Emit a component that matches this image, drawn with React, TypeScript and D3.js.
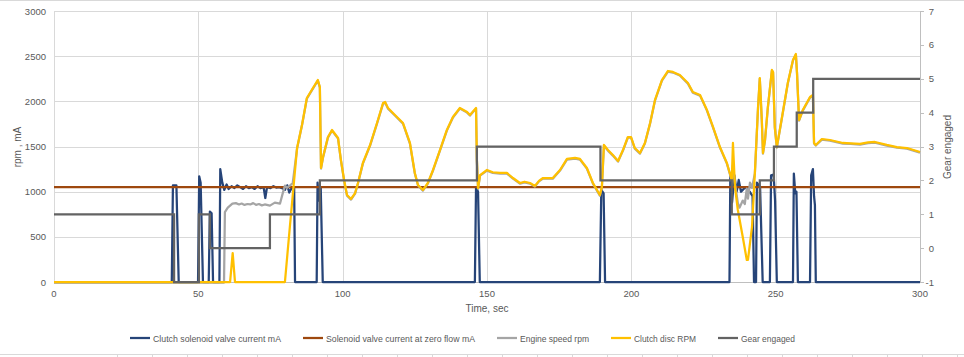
import React from "react";
import * as d3 from "d3";

type P = [number, number];

const xTicks = [0, 50, 100, 150, 200, 250, 300];
const yLeftTicks = [0, 500, 1000, 1500, 2000, 2500, 3000];
const yRightTicks = [-1, 0, 1, 2, 3, 4, 5, 6, 7];

const solenoidCurrent: P[] = [
  [0, 0], [40.8, 0], [41.2, 1070], [42.4, 1070], [43.2, 0],
  [49.9, 0], [50.3, 1170], [50.8, 1100], [51.6, 0],
  [53.6, 0], [54.0, 780], [54.6, 760], [55.1, 0],
  [57.3, 0], [57.6, 1250], [58.3, 1100], [59.0, 1020], [59.8, 1080], [60.5, 1030], [61.5, 1060],
  [62.5, 1040], [63.5, 1070], [64.5, 1050], [65.5, 1030], [66.5, 1060], [67.5, 1040], [68.5, 1050],
  [69.5, 1030], [70.5, 1060], [71.5, 1040], [72.6, 1050], [73.2, 930], [73.8, 1050], [75, 1040],
  [76, 1060], [77, 1045], [78, 1050], [79, 1040], [80, 1020], [80.8, 1070], [81.5, 990],
  [82.5, 1050], [83.2, 1040], [83.5, 0],
  [91.0, 0], [91.3, 1100], [91.8, 900], [92.4, 1050], [93.1, 0],
  [145.8, 0], [146.2, 1050], [146.9, 1000], [147.5, 0],
  [189.1, 0], [189.6, 1020], [190.4, 980], [190.9, 0],
  [234.0, 0], [234.3, 1200], [234.9, 880], [235.7, 1180], [236.5, 1000], [237.2, 1130],
  [238.0, 1000], [239.5, 1050], [241.0, 1000], [242.0, 950], [242.5, 0],
  [243.2, 0], [243.5, 1100], [244.6, 1050], [245.5, 0],
  [248.0, 0], [248.4, 1180], [249.3, 1190], [249.8, 900], [250.4, 0],
  [256.0, 0], [256.3, 1200], [256.8, 980], [257.2, 1000], [257.7, 0],
  [261.9, 0], [262.3, 1180], [262.9, 1250], [263.3, 950], [263.6, 850], [263.9, 0],
  [300, 0],
];

const zeroFlowCurrent: P[] = [[0, 1050], [300, 1050]];

const clutchDiscRpm: P[] = [
  [0, 0], [61.0, 0], [61.9, 320], [62.7, 0], [80.0, 0], [81.7, 609], [84.2, 1483], [85.9, 1738],
  [87.6, 2037], [89.7, 2147], [91.4, 2236], [92.1, 2158], [92.5, 1262], [93.2, 1384], [94.9, 1605],
  [96.3, 1683], [98.4, 1594], [99.4, 1350], [100.5, 1129], [101.5, 963], [102.9, 919], [104.3, 985],
  [105.3, 1096], [107.0, 1317], [109.5, 1517], [111.9, 1760], [114.0, 1982], [114.7, 1993],
  [115.7, 1926], [118.1, 1849], [120.9, 1760], [123.3, 1539], [125.0, 1207], [126.1, 1074],
  [127.8, 1018], [129.5, 1096], [131.3, 1240], [133.7, 1461], [136.1, 1683], [138.2, 1827],
  [140.6, 1926], [143.1, 1882], [144.1, 1849], [146.2, 1926], [146.5, 1350], [146.9, 1040],
  [147.6, 1184], [150.0, 1240], [152.0, 1215], [154.5, 1207], [156.9, 1207], [159.0, 1151],
  [161.4, 1096], [163.0, 1110], [164.9, 1096], [166.6, 1063], [168.0, 1120], [169.4, 1151],
  [172.8, 1151], [175.3, 1240], [177.7, 1362], [180.5, 1373], [182.2, 1362], [184.6, 1262],
  [186.7, 1096], [189.1, 963], [189.8, 1052], [190.5, 1517], [191.9, 1461], [193.6, 1406],
  [195.4, 1340], [197.1, 1461], [198.8, 1605], [199.9, 1605], [201.2, 1483], [203.0, 1428],
  [204.7, 1539], [206.5, 1760], [208.2, 2015], [210.6, 2236], [212.7, 2336], [214.4, 2325],
  [216.8, 2292], [219.6, 2203], [221.3, 2103], [223.8, 2070], [226.2, 1904], [228.3, 1716],
  [230.7, 1494], [233.1, 1317], [234.8, 1129], [235.2, 1539], [235.9, 1052], [236.9, 797],
  [238.6, 498], [240.0, 244], [240.4, 244], [241.8, 609], [242.8, 1207], [243.9, 1937],
  [244.5, 2258], [245.2, 1793], [245.6, 1428], [246.3, 1572], [247.3, 1937], [248.7, 2347],
  [249.1, 2325], [249.7, 1716], [250.4, 1494], [252.2, 1826], [254.2, 2203], [256.0, 2458],
  [257.0, 2524], [257.4, 2314], [258.1, 1793], [259.4, 1904], [261.9, 2048], [262.9, 2070],
  [263.3, 1539], [263.9, 1517], [266.0, 1583], [268.8, 1572], [273.3, 1539], [276.0, 1535],
  [279.2, 1528], [282.0, 1545], [284.4, 1550], [288.5, 1517], [292.0, 1494], [295.5, 1483],
  [300.0, 1439],
];

const engineEarly: P[] = [
  [0, 0], [58.9, 0], [59.2, 780], [60.2, 830], [61.8, 875], [63.0, 880], [64.1, 865], [65.0, 875],
  [66.0, 860], [67.0, 870], [68.0, 865], [69.0, 880], [70.0, 860], [71.0, 870], [72.0, 855],
  [73.0, 865], [74.8, 852], [76.5, 885], [78.3, 875], [79.3, 996], [80.0, 1074], [80.7, 1050],
  [81.7, 1074], [82.7, 1100],
];
const engineShift: P[] = [
  [235.2, 1300], [235.9, 1100], [236.9, 880], [237.5, 830], [238.6, 908], [239.3, 870],
  [240.0, 1040], [240.4, 930], [241.1, 1107], [241.8, 1050],
];
const engineSpeed: P[] = [
  ...engineEarly,
  ...clutchDiscRpm.filter((p) => p[0] > 83 && p[0] < 235),
  ...engineShift,
  ...clutchDiscRpm.filter((p) => p[0] > 242.5),
];

const gearEngaged: P[] = [
  [0, 1], [41.6, -1], [50.2, 1], [54.0, 0], [74.8, 1], [92.1, 2], [146.5, 3], [189.3, 2],
  [234.8, 1], [244.5, 2], [249.4, 3], [257.3, 4], [263.0, 5], [300, 5],
];

const legendItems = [
  { label: "Clutch solenoid valve current mA", color: "#264478", x: 130, w: 128 },
  { label: "Solenoid valve current at zero flow mA", color: "#9E480E", x: 303, w: 149 },
  { label: "Engine speed rpm", color: "#A5A5A5", x: 497, w: 69 },
  { label: "Clutch disc RPM", color: "#FFC000", x: 611, w: 62 },
  { label: "Gear engaged", color: "#636363", x: 718, w: 54 },
];

export default function App() {
  const W = 964;
  const H = 357;
  const left = 54, right = 920, top = 11, bottom = 282;
  const x = d3.scaleLinear().domain([0, 300]).range([left, right]);
  const yL = d3.scaleLinear().domain([0, 3000]).range([bottom, top]);
  const yR = d3.scaleLinear().domain([-1, 7]).range([bottom, top]);

  const lineL = d3.line<P>().x((d) => x(d[0])).y((d) => yL(d[1]));
  const lineR = d3.line<P>().x((d) => x(d[0])).y((d) => yR(d[1])).curve(d3.curveStepAfter);

  const font = "'Liberation Sans', Arial, sans-serif";
  const txt = "#595959";
  const sw = 2.25;

  const cellTicks: number[] = d3.range(117, W, 35);

  return (
    <svg width={W} height={H} style={{ position: "absolute", left: 0, top: 0, background: "#fff" }} fontFamily={font}>
      <rect x={0} y={0} width={W} height={H} fill="#fff" />
      <line x1={0} x2={W} y1={0.5} y2={0.5} stroke="#D9D9D9" />
      <line x1={0} x2={W} y1={354.5} y2={354.5} stroke="#D9D9D9" />
      {cellTicks.map((t) => (
        <line key={"c" + t} x1={t + 0.5} x2={t + 0.5} y1={354} y2={H} stroke="#D9D9D9" />
      ))}
      {yLeftTicks.map((v) => (
        <line key={"h" + v} x1={left} x2={right} y1={Math.round(yL(v)) + 0.5} y2={Math.round(yL(v)) + 0.5} stroke="#D9D9D9" />
      ))}
      {xTicks.map((v) => (
        <line key={"v" + v} x1={Math.round(x(v)) + 0.5} x2={Math.round(x(v)) + 0.5} y1={top} y2={bottom} stroke="#D9D9D9" />
      ))}
      <line x1={left} x2={right} y1={bottom + 0.5} y2={bottom + 0.5} stroke="#BFBFBF" />
      <line x1={right + 0.5} x2={right + 0.5} y1={top} y2={bottom} stroke="#BFBFBF" />
      {yRightTicks.map((v) => (
        <line key={"rt" + v} x1={right} x2={right + 4} y1={Math.round(yR(v)) + 0.5} y2={Math.round(yR(v)) + 0.5} stroke="#BFBFBF" />
      ))}
      {yLeftTicks.map((v) => (
        <text key={"yl" + v} x={46} y={yL(v) + 3.5} textAnchor="end" fontSize={9.5} fill={txt}>{v}</text>
      ))}
      {yRightTicks.map((v) => (
        <text key={"yr" + v} x={934} y={yR(v) + 3.5} textAnchor="end" fontSize={9.5} fill={txt}>{v}</text>
      ))}
      {xTicks.map((v) => (
        <text key={"xl" + v} x={x(v)} y={297} textAnchor="middle" fontSize={9.5} fill={txt}>{v}</text>
      ))}
      <text x={487} y={312} textAnchor="middle" fontSize={10} fill={txt}>Time, sec</text>
      <text transform="translate(21,147) rotate(-90)" textAnchor="middle" fontSize={10} fill={txt}>rpm , mA</text>
      <text transform="translate(951,147) rotate(-90)" textAnchor="middle" fontSize={10} fill={txt}>Gear engaged</text>
      <path d={lineL(solenoidCurrent) || ""} fill="none" stroke="#264478" strokeWidth={sw} strokeLinejoin="round" />
      <path d={lineL(zeroFlowCurrent) || ""} fill="none" stroke="#9E480E" strokeWidth={sw} />
      <path d={lineL(engineSpeed) || ""} fill="none" stroke="#A5A5A5" strokeWidth={sw} strokeLinejoin="round" transform="translate(0,0.6)" />
      <path d={lineL(clutchDiscRpm) || ""} fill="none" stroke="#FFC000" strokeWidth={sw} strokeLinejoin="round" />
      <path d={lineR(gearEngaged) || ""} fill="none" stroke="#636363" strokeWidth={sw} />
      {legendItems.map((it) => (
        <g key={it.label}>
          <line x1={it.x} x2={it.x + 20} y1={338} y2={338} stroke={it.color} strokeWidth={sw} />
          <text x={it.x + 23} y={341.5} fontSize={9.5} fill={txt} textLength={it.w} lengthAdjust="spacingAndGlyphs">{it.label}</text>
        </g>
      ))}
    </svg>
  );
}
